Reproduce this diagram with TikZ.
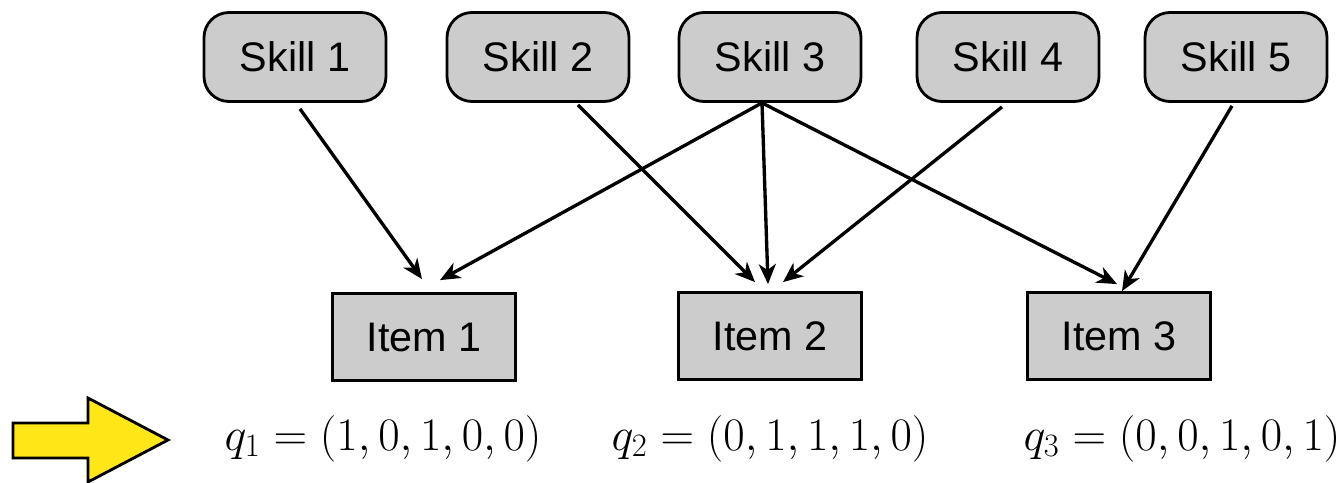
\RequirePackage{fix-cm}
\documentclass[tikz,border=0pt]{standalone}
\usepackage{amsmath}
\usepackage{fontspec}
\usepackage{xcolor}
\usepackage{tikz}
\usetikzlibrary{arrows.meta,positioning,calc}
\newfontfamily\helv{Liberation Sans}
\definecolor{boxgray}{HTML}{CCCCCC}
\definecolor{pointyellow}{HTML}{FFE617}

\begin{document}
\begin{tikzpicture}[
  x=0.2mm, y=-0.2mm,
  skill/.style={
    draw=black,
    fill=boxgray,
    line width=1.6pt,
    rounded corners=5mm,
    minimum width=36.4mm,
    minimum height=17.8mm,
    inner sep=0pt,
    font=\helv\fontsize{23.5}{28}\selectfont
  },
  item/.style={
    draw=black,
    fill=boxgray,
    line width=1.6pt,
    minimum width=36.6mm,
    minimum height=17.4mm,
    inner sep=0pt,
    font=\helv\fontsize{23.5}{28}\selectfont
  },
  qvec/.style={anchor=base, inner sep=0pt, font=\fontsize{26.5}{32}\selectfont},
  arr/.style={-{Stealth[length=4mm, width=3.4mm, inset=1.2mm]}, line width=1.9pt, draw=black}
]
\useasboundingbox (0,0) rectangle (1343,483);

% skills
\node[skill] (s1) at (295, 57) {Skill 1};
\node[skill] (s2) at (538, 57) {Skill 2};
\node[skill] (s3) at (770, 57) {Skill 3};
\node[skill] (s4) at (1008, 57) {Skill 4};
\node[skill] (s5) at (1236, 57) {Skill 5};

% items
\node[item] (i1) at (424, 337) {Item 1};
\node[item] (i2) at (770, 336) {Item 2};
\node[item] (i3) at (1119, 336) {Item 3};

% q-vectors
\node[qvec] (q1) at (383, 450) {$q_1 = (1,0,1,0,0)$};
\node[qvec] (q2) at (770, 450) {$q_2 = (0,1,1,1,0)$};
\node[qvec] (q3) at (1182, 450) {$q_3 = (0,0,1,0,1)$};

\coordinate (hub) at ($(s3.south)+(-8,0)$);

\draw[arr] ($(s1.south)+(5,6)$) -- ($(i1.north)+(-2,-13)$);
\draw[arr] (hub) -- ($(i1.north)+(16,-12)$);
\draw[arr] ($(s2.south)+(40,2)$) -- ($(i2.north)+(-15,-9)$);
\draw[arr] (hub) -- ($(i2.north)+(-2,-7)$);
\draw[arr] ($(s4.south)+(-6,4)$) -- ($(i2.north)+(13,-9)$);
\draw[arr] (hub) -- ($(i3.north)+(-2,-7)$);
\draw[arr] ($(s5.south)+(-4,3)$) -- ($(i3.north)+(3,0)$);

% pointer
\draw[fill=pointyellow, line width=1.6pt, line join=miter]
  (13,423) -- (88,423) -- (88,398) -- (168,440) -- (88,482) -- (88,458) -- (13,458) -- cycle;

\end{tikzpicture}
\end{document}
